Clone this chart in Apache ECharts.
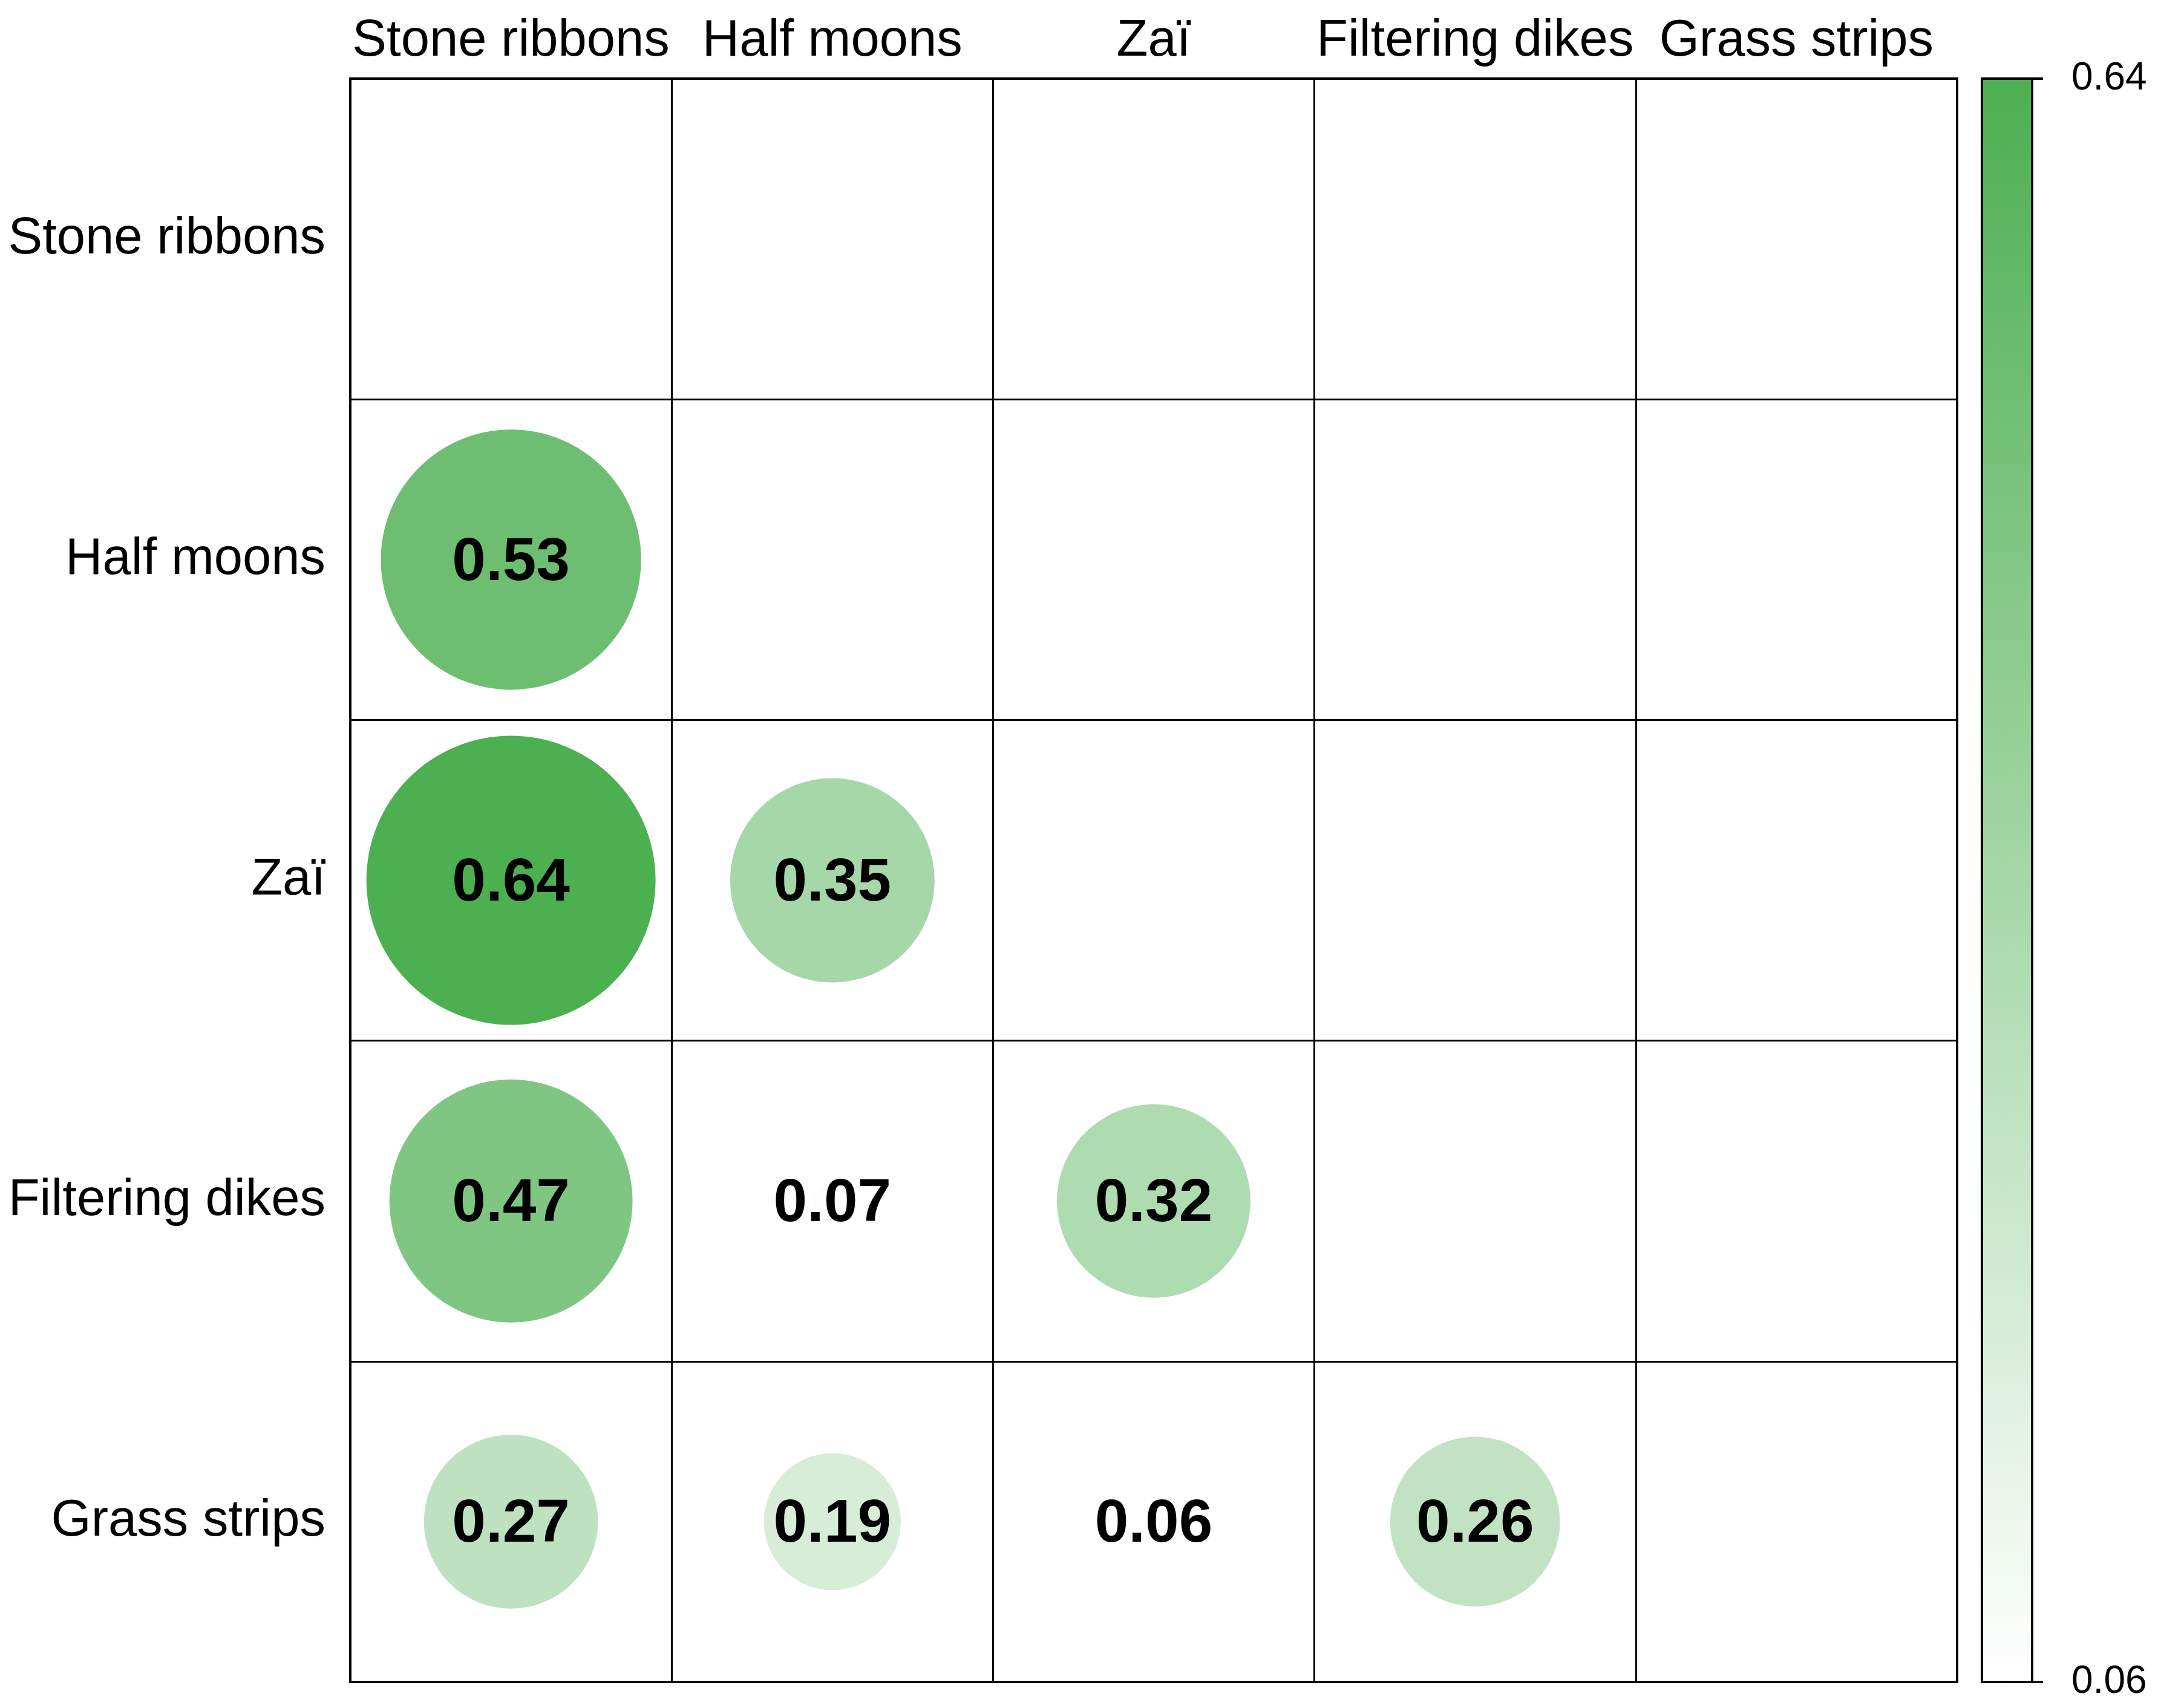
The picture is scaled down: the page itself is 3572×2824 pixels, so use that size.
<!DOCTYPE html>
<html>
<head>
<meta charset="utf-8">
<script src="https://cdn.jsdelivr.net/npm/echarts@6/dist/echarts.min.js"></script>
<style>
  html, body { margin: 0; padding: 0; background: #fff; }
  #main { width: 3572px; height: 2824px; }
</style>
</head>
<body>
<div id="main"></div>
<script>
// techniques, same order on both axes
const techniques = ['Stone ribbons', 'Half moons', 'Zaï', 'Filtering dikes', 'Grass strips']

// lower triangle, one row per technique (columns from Stone ribbons onward)
const rowHalfMoons = [0.53]
const rowZai = [0.64, 0.35]
const rowFilteringDikes = [0.47, 0.07, 0.32]
const rowGrassStrips = [0.27, 0.19, 0.06, 0.26]

// colour bar range and its tick labels
const colorMin = 0.06
const colorMax = 0.64
const barTicks = [0.06, 0.64]

const rows = [[], rowHalfMoons, rowZai, rowFilteringDikes, rowGrassStrips]
const cells = []
rows.forEach((row, r) => {
  row.forEach((v, c) => {
    cells.push([c, r, v])
  })
})

const font = 'Liberation Sans, Arial, sans-serif'
const maxDiameter = 478

let myChart = echarts.init(document.getElementById('main'))

let option = {
  backgroundColor: '#fff',
  animation: false,
  grid: [
    {
      left: 579, top: 130, width: 2656, height: 2651,
      show: true, borderColor: '#000', borderWidth: 4, z: 10
    },
    {
      left: 3276, top: 130, width: 83, height: 2651,
      show: true, borderColor: '#000', borderWidth: 4, z: 10
    }
  ],
  xAxis: [
    {
      type: 'category',
      gridIndex: 0,
      position: 'top',
      data: techniques,
      axisLine: { show: false },
      axisTick: { show: false },
      axisLabel: { interval: 0, fontSize: 85, color: '#000', fontFamily: font, margin: 19 },
      splitLine: { show: true, interval: 0, lineStyle: { color: '#000', width: 3 } },
      z: 10
    },
    {
      type: 'category',
      gridIndex: 1,
      data: [''],
      show: false
    }
  ],
  yAxis: [
    {
      type: 'category',
      gridIndex: 0,
      inverse: true,
      data: techniques,
      axisLine: { show: false },
      axisTick: { show: false },
      axisLabel: { interval: 0, fontSize: 85, color: '#000', fontFamily: font, margin: 41 },
      splitLine: { show: true, interval: 0, lineStyle: { color: '#000', width: 3 } },
      z: 10
    },
    {
      type: 'value',
      gridIndex: 1,
      position: 'right',
      min: colorMin,
      max: colorMax,
      axisLine: { show: true, lineStyle: { color: '#000', width: 4 } },
      axisTick: { show: true, length: 18, customValues: barTicks, lineStyle: { color: '#000', width: 4 } },
      axisLabel: {
        customValues: barTicks,
        fontSize: 64, color: '#000', fontFamily: font, margin: 65,
        formatter: v => v.toFixed(2)
      },
      splitLine: { show: false },
      z: 10
    }
  ],
  visualMap: {
    type: 'continuous',
    seriesIndex: 0,
    dimension: 2,
    min: colorMin,
    max: colorMax,
    calculable: false,
    hoverLink: false,
    indicatorSize: 0,
    show: true,
    orient: 'vertical',
    left: 3276,
    top: 130,
    padding: 0,
    itemWidth: 83,
    itemHeight: 2651,
    text: null,
    inRange: { color: ['#ffffff', '#4CAF50'] }
  },
  series: [
    {
      type: 'scatter',
      xAxisIndex: 0,
      yAxisIndex: 0,
      symbol: 'circle',
      symbolSize: val => maxDiameter * Math.sqrt(Math.max(0, val[2] - colorMin) / (colorMax - colorMin)),
      data: cells,
      itemStyle: { opacity: 1 },
      label: {
        show: true,
        position: 'inside',
        offset: [0, 6],
        formatter: p => p.value[2].toFixed(2),
        fontSize: 100,
        fontWeight: 'bold',
        color: '#000',
        opacity: 1,
        fontFamily: font
      },
      z: 5
    }
  ]
}

myChart.setOption(option)
</script>
</body>
</html>
